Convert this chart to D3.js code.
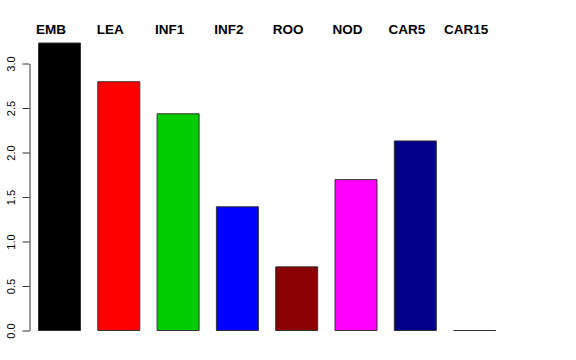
<!DOCTYPE html>
<html>
<head>
<meta charset="utf-8">
<script src="https://cdn.jsdelivr.net/npm/d3@7"></script>
<style>
  body { margin: 0; background: #fff; }
  svg { display: block; font-family: "Liberation Sans", Arial, sans-serif; }
</style>
</head>
<body>
<div class="chart"></div>
<script>
// data
var categories = ["EMB", "LEA", "INF1", "INF2", "ROO", "NOD", "CAR5", "CAR15"];
var values = [3.23, 2.795, 2.435, 1.39, 0.715, 1.695, 2.13, 0];
var colors = ["#000000", "#ff0000", "#00cd00", "#0000ff", "#8b0000", "#ff00ff", "#00008b", "#ffffff"];
var yTicks = [0, 0.5, 1, 1.5, 2, 2.5, 3];

var width = 576, height = 360;

var svg = d3.select("div.chart")
    .append("svg")
    .attr("width", width)
    .attr("height", height);

// scales
var x = d3.scaleBand()
    .domain(categories)
    .range([38, 495.1])
    .paddingInner(0.292)
    .paddingOuter(0);

var y = d3.scaleLinear()
    .domain([0, 3])
    .range([330.5, 63.5]);

// bars as paths so a zero-height bar still shows its outline
svg.selectAll("path.bar")
    .data(values)
    .enter()
    .append("path")
    .attr("class", "bar")
    .attr("d", function (d, i) {
        var x0 = x(categories[i]) + 0.5, w = x.bandwidth();
        var p = d3.path();
        p.rect(x0, y(d), w, y(0) - y(d));
        return p.toString();
    })
    .style("fill", function (d, i) { return colors[i]; })
    .style("stroke", "#333")
    .style("stroke-width", 1);

// y axis
var axis = svg.append("g")
    .attr("transform", "translate(29.5,0)")
    .call(d3.axisLeft(y).tickValues(yTicks).tickSize(7).tickSizeOuter(0)
        .tickFormat(d3.format(".1f")));

axis.select(".domain").attr("stroke", "#333");
axis.selectAll(".tick line").attr("stroke", "#333");
axis.selectAll(".tick text")
    .attr("x", null)
    .attr("dy", null)
    .attr("transform", "translate(-15,0) rotate(-90)")
    .style("text-anchor", "middle")
    .style("font-size", "11px")
    .style("font-family", "Liberation Sans, Arial, sans-serif")
    .attr("fill", "#000");

// category labels on top
svg.selectAll("text.cat")
    .data(categories)
    .enter()
    .append("text")
    .attr("class", "cat")
    .attr("x", function (d) { return x(d) + x.bandwidth() / 2 - 8; })
    .attr("y", 34)
    .style("text-anchor", "middle")
    .style("font-weight", "bold")
    .style("font-size", "13.5px")
    .text(function (d) { return d; });
</script>
</body>
</html>
